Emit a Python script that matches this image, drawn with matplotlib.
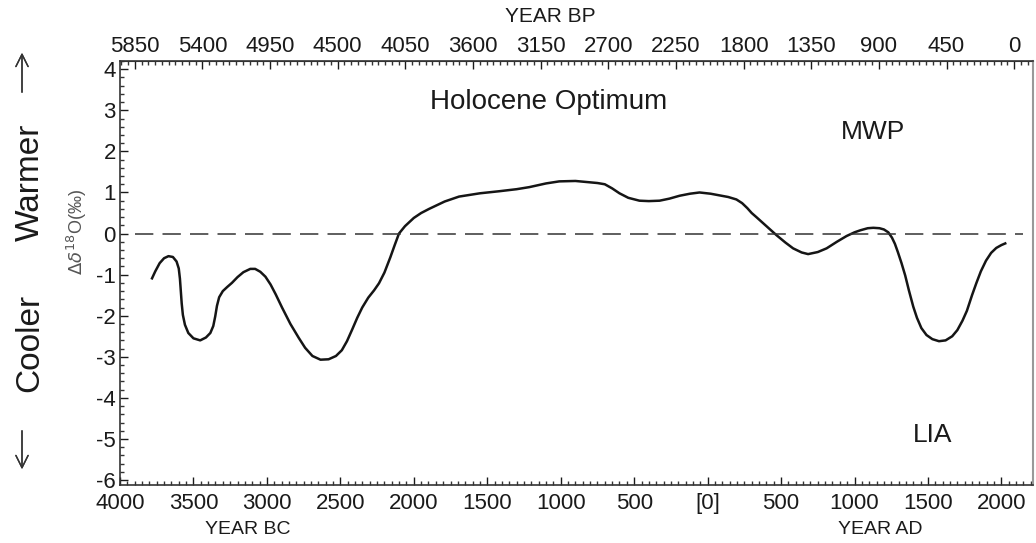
import numpy as np
import matplotlib.pyplot as plt
from matplotlib.ticker import MultipleLocator, FixedLocator

plt.rcParams['font.family'] = ['Liberation Sans', 'DejaVu Sans']
plt.rcParams['axes.unicode_minus'] = False

# smoothed oxygen isotope anomaly, years BC negative
years = [-3782, -3760, -3730, -3700, -3670, -3640, -3615, -3600, -3592, -3586,
         -3580, -3572, -3558, -3535, -3500, -3454, -3415, -3385, -3365, -3352,
         -3340, -3325, -3300, -3270, -3238, -3200, -3160, -3113, -3080, -3045,
         -3010, -2975, -2940, -2897, -2840, -2783, -2740, -2690, -2635, -2580,
         -2530, -2490, -2455, -2420, -2385, -2351, -2310, -2270, -2237, -2200,
         -2160, -2130, -2101, -2060, -2000, -1950, -1896, -1790, -1692, -1550,
         -1419, -1300, -1214, -1100, -1010, -900, -805, -750, -700, -650,
         -600, -540, -464, -400, -327, -260, -191, -120, -55, 20,
         82, 140, 196, 235, 270, 300, 332, 400, 469, 530,
         582, 640, 684, 750, 810, 880, 946, 1000, 1040, 1090,
         1128, 1170, 1200, 1230, 1255, 1275, 1295, 1320, 1345, 1370,
         1400, 1425, 1455, 1490, 1530, 1575, 1620, 1665, 1700, 1735,
         1765, 1800, 1830, 1860, 1895, 1930, 1965, 2000, 2026]
d18o = [-1.09, -0.92, -0.72, -0.60, -0.55, -0.57, -0.68, -0.85, -1.10, -1.40,
        -1.70, -1.98, -2.22, -2.42, -2.55, -2.60, -2.53, -2.42, -2.25, -2.02,
        -1.76, -1.55, -1.40, -1.30, -1.20, -1.06, -0.94, -0.86, -0.86, -0.93,
        -1.05, -1.24, -1.48, -1.80, -2.20, -2.54, -2.78, -2.98, -3.07, -3.06,
        -2.98, -2.84, -2.62, -2.34, -2.05, -1.80, -1.56, -1.38, -1.21, -0.95,
        -0.58, -0.28, 0.00, 0.18, 0.38, 0.50, 0.60, 0.78, 0.90, 0.98,
        1.03, 1.08, 1.13, 1.22, 1.27, 1.28, 1.25, 1.23, 1.20, 1.10,
        0.98, 0.87, 0.80, 0.79, 0.80, 0.85, 0.92, 0.97, 1.00, 0.97,
        0.93, 0.89, 0.83, 0.74, 0.62, 0.50, 0.40, 0.18, -0.04, -0.22,
        -0.36, -0.46, -0.50, -0.45, -0.36, -0.20, -0.06, 0.03, 0.08, 0.13,
        0.14, 0.13, 0.10, 0.03, -0.10, -0.25, -0.45, -0.72, -1.02, -1.38,
        -1.78, -2.05, -2.30, -2.47, -2.57, -2.62, -2.60, -2.50, -2.35, -2.12,
        -1.88, -1.50, -1.20, -0.92, -0.66, -0.47, -0.35, -0.28, -0.24]

bottom_ticks = [-4000, -3500, -3000, -2500, -2000, -1500, -1000, -500, 0,
                500, 1000, 1500, 2000]
bottom_labels = [str(abs(t)) if t != 0 else '[0]' for t in bottom_ticks]
bp_ticks = [5850, 5400, 4950, 4500, 4050, 3600, 3150, 2700, 2250, 1800, 1350, 900, 450, 0]
y_ticks = [4, 3, 2, 1, 0, -1, -2, -3, -4, -5, -6]

TXT = '#1a1a1a'
W, H = 1036, 543
fig = plt.figure(figsize=(W / 100, H / 100), dpi=100)
ax = fig.add_axes([120 / W, 1 - 485 / H, 913 / W, 424 / H])

ax.plot(years, d18o, color='#151515', lw=1.8)
ax.hlines(0, -3895, 2150, colors='#333333', linestyles=(0, (12, 6)), lw=1.1)

ax.set_xlim(-4000, 2215)
ax.set_ylim(-6.12, 4.2)

ax.set_xticks(bottom_ticks)
ax.set_xticklabels(bottom_labels)
ax.xaxis.set_minor_locator(MultipleLocator(50))
ax.set_yticks(y_ticks)
ax.yaxis.set_minor_locator(MultipleLocator(0.2))

ax.tick_params(which='both', direction='in', color='#333333', width=1)
ax.tick_params(which='major', length=6, labelsize=16, colors=TXT)
ax.tick_params(which='minor', length=3)
ax.tick_params(axis='x', which='major', pad=6)
ax.tick_params(axis='y', which='major', pad=3)

for side in ['left', 'bottom', 'top']:
    ax.spines[side].set_color('#333333')
    ax.spines[side].set_linewidth(1.2)
ax.spines['right'].set_color('#999999')
ax.spines['right'].set_linewidth(1.5)

# BP scale on top
def to_bp(yr):
    return (2087 - np.asarray(yr)) / 1.0233

def from_bp(bp):
    return 2087 - 1.0233 * np.asarray(bp)

top = ax.secondary_xaxis('top', functions=(to_bp, from_bp))
top.xaxis.set_major_locator(FixedLocator(bp_ticks))
top.xaxis.set_minor_locator(MultipleLocator(45))
top.tick_params(which='both', direction='in', color='#333333', width=1)
top.tick_params(which='major', length=6, labelsize=16, colors=TXT, pad=3)
top.tick_params(which='minor', length=3)
top.spines['top'].set_color('#333333')

fig.text(550 / W, 1 - 16 / H, 'YEAR BP', ha='center', va='center', fontsize=15, color=TXT)
fig.text(248 / W, 1 - 530 / H, 'YEAR BC', ha='center', va='center', fontsize=14, color=TXT)
fig.text(880 / W, 1 - 530 / H, 'YEAR AD', ha='center', va='center', fontsize=14, color=TXT)

ax.text(-1085, 3.19, 'Holocene Optimum', ha='center', va='center', fontsize=20, color=TXT)
ax.text(1125, 2.46, 'MWP', ha='center', va='center', fontsize=19, color=TXT)
ax.text(1530, -4.9, 'LIA', ha='center', va='center', fontsize=19, color=TXT)

fig.text(77 / W, 1 - 232 / H, r'$\Delta\delta^{18}$O(‰)', rotation=90, ha='center', va='center',
         fontsize=13, color='#555555')

fig.text(30 / W, 1 - 182 / H, 'Warmer', rotation=90, ha='center', va='center', fontsize=24, color=TXT)
fig.text(30 / W, 1 - 343 / H, 'Cooler', rotation=90, ha='center', va='center', fontsize=24, color=TXT)
fig.add_artist(plt.annotate('', xy=(22 / W, 1 - 50 / H), xytext=(22 / W, 1 - 95 / H),
                            xycoords='figure fraction', textcoords='figure fraction',
                            arrowprops=dict(arrowstyle='->', lw=1, color='#333333', mutation_scale=22)))
fig.add_artist(plt.annotate('', xy=(22 / W, 1 - 472 / H), xytext=(22 / W, 1 - 428 / H),
                            xycoords='figure fraction', textcoords='figure fraction',
                            arrowprops=dict(arrowstyle='->', lw=1, color='#333333', mutation_scale=22)))

fig.savefig('out.png', dpi=100)
